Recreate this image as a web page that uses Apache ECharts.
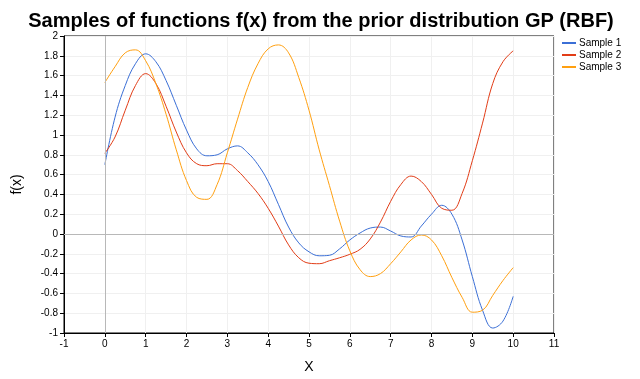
<!DOCTYPE html>
<html><head><meta charset="utf-8">
<script src="https://cdn.jsdelivr.net/npm/echarts@6/dist/echarts.min.js"></script>
<style>html,body{margin:0;padding:0;background:#fff}#c{width:640px;height:379px}</style>
</head><body><div id="c"></div>
<script>
const xValues = [0,0.25,0.5,0.75,1,1.25,1.5,1.75,2,2.25,2.5,2.75,3,3.25,3.5,3.75,4,4.25,4.5,4.75,5,5.25,5.5,5.75,6,6.25,6.5,6.75,7,7.25,7.5,7.75,8,8.25,8.5,8.75,9,9.25,9.5,9.75,10];
const sample1 = [0.70,1.18,1.50,1.72,1.82,1.74,1.55,1.30,1.05,0.86,0.79,0.80,0.86,0.89,0.82,0.70,0.53,0.30,0.07,-0.09,-0.18,-0.22,-0.215,-0.15,-0.06,0.01,0.06,0.07,0.03,-0.02,-0.03,0.08,0.20,0.29,0.20,-0.06,-0.43,-0.77,-0.95,-0.88,-0.63];
const sample2 = [0.815,0.98,1.25,1.50,1.62,1.52,1.29,1.03,0.82,0.71,0.69,0.71,0.71,0.64,0.53,0.41,0.26,0.08,-0.11,-0.24,-0.295,-0.30,-0.27,-0.24,-0.205,-0.155,-0.05,0.12,0.33,0.50,0.585,0.53,0.40,0.26,0.24,0.41,0.74,1.12,1.52,1.74,1.85];
const sample3 = [1.53,1.69,1.83,1.86,1.75,1.52,1.21,0.85,0.54,0.37,0.35,0.50,0.82,1.16,1.48,1.72,1.87,1.91,1.83,1.58,1.25,0.85,0.49,0.13,-0.17,-0.36,-0.43,-0.40,-0.30,-0.18,-0.06,-0.01,-0.06,-0.22,-0.44,-0.64,-0.79,-0.77,-0.62,-0.47,-0.34];
const seriesNames = ['Sample 1','Sample 2','Sample 3'];
const seriesColors = ['#3b6fd6','#e23d17','#ffa010'];
const titleText = 'Samples of functions f(x) from the prior distribution GP (RBF)';

const allSamples = [sample1, sample2, sample3];
const chart = echarts.init(document.getElementById('c'), null, {renderer:'canvas'});
const font = 'Arial, "Liberation Sans", sans-serif';
const series = allSamples.map((ys, i) => ({
  name: seriesNames[i], type: 'line', symbol: 'none', smooth: 0.4,
  lineStyle: {width: 1, color: seriesColors[i]}, itemStyle: {color: seriesColors[i]},
  data: xValues.map((x, k) => [x, ys[k]]), z: 3,
  markLine: i === 0 ? {silent: true, symbol: 'none', label: {show: false},
    lineStyle: {color: '#b8b8b8', type: 'solid', width: 1}, animation: false,
    data: [{xAxis: 0}, {yAxis: 0}]} : undefined
}));
chart.setOption({
  animation: false,
  backgroundColor: '#fff',
  title: {text: titleText, left: 316, textAlign: 'center', top: 6,
    textStyle: {fontFamily: font, fontSize: 20, fontWeight: 'bold', color: '#000'}},
  legend: {orient: 'vertical', left: 557, top: 33, icon: 'rect', itemWidth: 14, itemHeight: 2, itemGap: 2,
    textStyle: {fontFamily: font, fontSize: 10, color: '#000', padding: [0,0,0,-2]}, data: seriesNames},
  grid: {left: 64, right: 86, top: 36, bottom: 46, show: true, borderColor: '#000', borderWidth: 1, backgroundColor: 'transparent'},
  xAxis: {type: 'value', min: -1, max: 11, interval: 1, name: 'X', nameLocation: 'middle', nameGap: 27,
    nameTextStyle: {fontFamily: font, fontSize: 14, color: '#000'},
    axisLine: {show: true, onZero: false, lineStyle: {color: '#000'}},
    axisTick: {show: true, length: 4, lineStyle: {color: '#000'}},
    axisLabel: {fontFamily: font, fontSize: 10, color: '#000', margin: 6},
    splitLine: {show: true, lineStyle: {color: '#f0f0f0'}}},
  yAxis: {type: 'value', min: -1, max: 2, interval: 0.2, name: 'f(x)', nameLocation: 'middle', nameGap: 40,
    nameTextStyle: {fontFamily: font, fontSize: 14, color: '#000'},
    axisLine: {show: true, onZero: false, lineStyle: {color: '#000'}},
    axisTick: {show: true, length: 4, lineStyle: {color: '#000'}},
    axisLabel: {fontFamily: font, fontSize: 10, color: '#000', margin: 6},
    splitLine: {show: true, lineStyle: {color: '#f0f0f0'}}},
  series: series
});
</script></body></html>
